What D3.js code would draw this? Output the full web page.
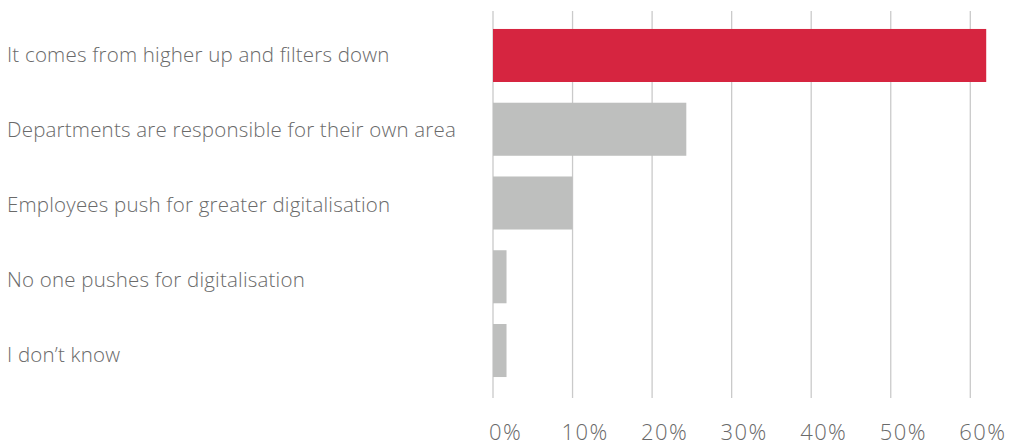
<!DOCTYPE html>
<html>
<head>
<meta charset="utf-8">
<script src="https://cdn.jsdelivr.net/npm/d3@7"></script>
<style>
  html, body { margin: 0; padding: 0; background: #fff; }
  svg text { font-family: "Open Sans", Lato, sans-serif; font-weight: 300; fill: #6a6a6a; }
</style>
</head>
<body>
<svg id="chart" width="1030" height="445"></svg>
<script>
// Who drives digitalisation in the organisation (% of respondents)
const categories = [
  "It comes from higher up and filters down",
  "Departments are responsible for their own area",
  "Employees push for greater digitalisation",
  "No one pushes for digitalisation",
  "I don\u2019t know"
];
const values = [62, 24.3, 10, 1.7, 1.7];
const highlight = [true, false, false, false, false];
const tickValues = [0, 10, 20, 30, 40, 50, 60];
const tickLabels = ["0%", "10%", "20%", "30%", "40%", "50%", "60%"];

const svg = d3.select("#chart");

const x = d3.scaleLinear().domain([0, 60]).range([493, 970.3]);
const y = d3.scaleBand().domain(categories).range([18.6, 387.4])
  .paddingInner(0.281).paddingOuter(0.1405);
// category labels sit on a slightly wider rhythm than the bars
const yLabel = d3.scalePoint().domain(categories).range([61.7, 361.7]);

// vertical gridlines
svg.append("g").selectAll("line")
  .data(tickValues)
  .join("line")
  .attr("x1", d => x(d)).attr("x2", d => x(d))
  .attr("y1", 11).attr("y2", 398)
  .attr("stroke", "#cacaca")
  .attr("stroke-width", 1.3);

// bars
svg.append("g").selectAll("rect")
  .data(categories)
  .join("rect")
  .attr("x", x(0))
  .attr("y", d => y(d))
  .attr("width", (d, i) => x(values[i]) - x(0))
  .attr("height", y.bandwidth())
  .attr("fill", (d, i) => highlight[i] ? "#d62540" : "#bebfbe");

// category labels
svg.append("g").selectAll("text")
  .data(categories)
  .join("text")
  .attr("x", 7)
  .attr("y", d => yLabel(d))
  .attr("font-size", 20.5)
  .attr("letter-spacing", 0.2)
  .text(d => d);

// x axis tick labels
const xAxis = d3.axisBottom(x)
  .tickValues(tickValues)
  .tickFormat((d, i) => tickLabels[i])
  .tickSize(0)
  .tickPadding(0);
const gx = svg.append("g").call(xAxis);
gx.select(".domain").remove();
gx.selectAll("text")
  .attr("y", 440)
  .attr("dy", 0)
  .attr("dx", 12)
  .attr("font-size", 22)
  .attr("letter-spacing", 1.4)
  .attr("font-family", null)
  .style("font-family", "'Open Sans', Lato, sans-serif")
  .style("font-weight", 300)
  .attr("fill", "#6a6a6a");
</script>
</body>
</html>
